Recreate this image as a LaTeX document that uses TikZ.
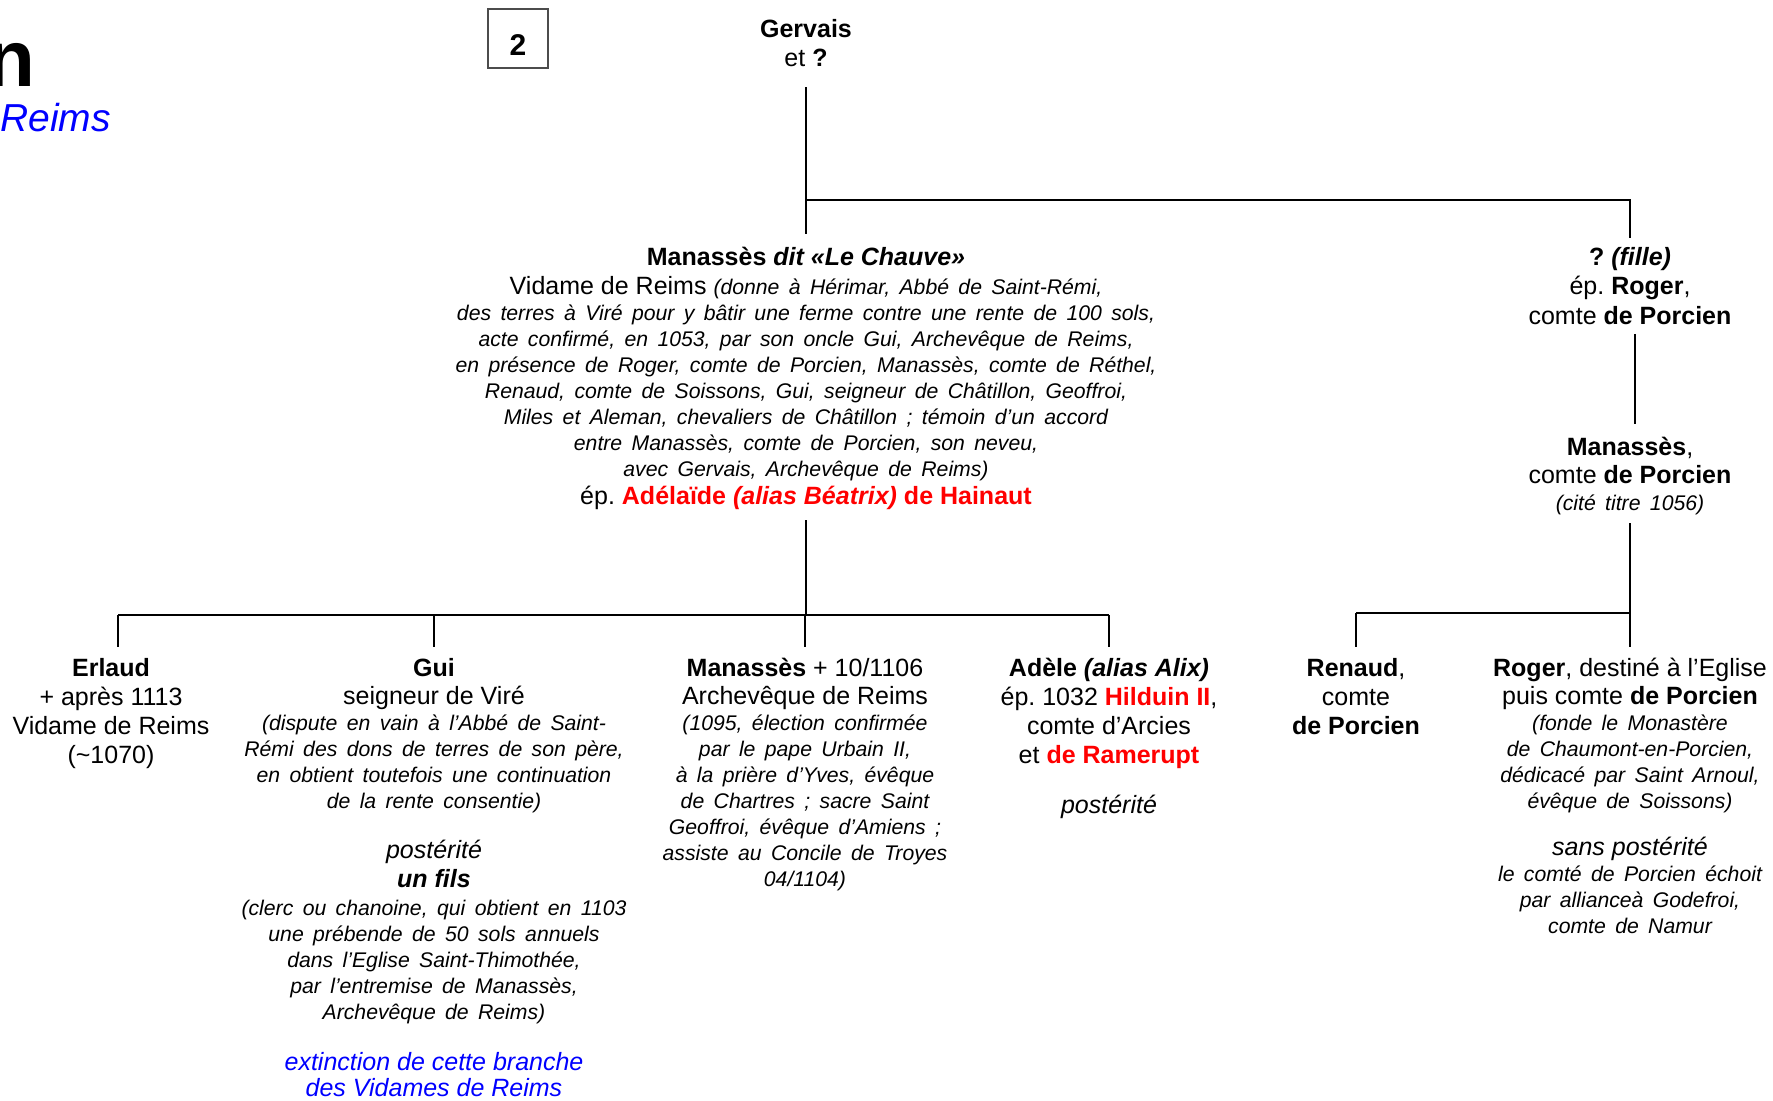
\documentclass[tikz,border=0pt]{standalone}
\usepackage{fontspec}
\setmainfont{Liberation Sans}
\usetikzlibrary{positioning}
\frenchspacing
\definecolor{rouge}{RGB}{255,0,0}
\definecolor{bleu}{RGB}{0,0,255}
\newcommand{\gnote}[1]{{\fontsize{10.6}{13}\selectfont\itshape\spaceskip=4.7pt plus 1pt minus 0.5pt #1}}
\newcommand{\haut}{\rule{0pt}{12pt}}

\begin{document}
\begin{tikzpicture}[
    x=0.5pt, y=-0.5pt,
    pers/.style={align=center, inner sep=0pt, anchor=north,
      font={\fontsize{12.5}{13}\selectfont\lineskiplimit=-50pt}},
    lien/.style={line width=1.4pt}
    ]
    \useasboundingbox (0,0) rectangle (1773,1100);
    \node[anchor=base east, inner sep=0pt, font={\fontsize{40}{40}\selectfont\bfseries}] (titre) at (36,86) {n};
    \node[anchor=base west, inner sep=0pt, text=bleu, font={\fontsize{19.5}{20}\selectfont\itshape}] (soustitre) at (0,131) {Reims};
    \node[draw=black!70, line width=0.6pt, minimum width=30pt, minimum height=29.5pt,
      text height=16.8pt, text depth=0pt, font={\fontsize{15}{15}\selectfont\bfseries}] (num) at (518,38.5) {2};

    \node[pers] (gerv) at (806,13) {\haut\textbf{Gervais}\\[1.5pt] et \textbf{?}};

    \node[pers] (mch) at (806,241) {\haut\textbf{Manassès \textit{dit «Le Chauve»}}\\[1.5pt]
      Vidame de Reims \gnote{(donne à Hérimar, Abbé de Saint-Rémi,}\\
      \gnote{des terres à Viré pour y bâtir une ferme contre une rente de 100 sols,}\\
      \gnote{acte confirmé, en 1053, par son oncle Gui, Archevêque de Reims,}\\
      \gnote{en présence de Roger, comte de Porcien, Manassès, comte de Réthel,}\\
      \gnote{Renaud, comte de Soissons, Gui, seigneur de Châtillon, Geoffroi,}\\
      \gnote{Miles et Aleman, chevaliers de Châtillon ; témoin d’un accord}\\
      \gnote{entre Manassès, comte de Porcien, son neveu,}\\
      \gnote{avec Gervais, Archevêque de Reims)}\\[1pt]
      ép. \textcolor{rouge}{\textbf{Adélaïde \textit{(alias Béatrix)} de Hainaut}}};

    \node[pers] (fille) at (1630,241) {\haut\textbf{? \textit{(fille)}}\\[1.7pt]
      ép. \textbf{Roger},\\[1.7pt]
      comte \textbf{de Porcien}};

    \node[pers] (mpor) at (1630,431) {\haut\textbf{Manassès},\\[1pt]
      comte \textbf{de Porcien}\\[0.5pt]
      \gnote{(cité titre 1056)}};

    % enfants de Manasses le Chauve
    \node[pers] (erl) at (111,652) {\haut\textbf{Erlaud}\\[1.5pt]
      + après 1113\\[1.5pt]
      Vidame de Reims\\[1.5pt]
      (\textasciitilde1070)};

    \node[pers] (gui) at (434,652) {\haut\textbf{Gui}\\[1pt]
      seigneur de Viré\\
      \gnote{(dispute en vain à l’Abbé de Saint-}\\
      \gnote{Rémi des dons de terres de son père,}\\
      \gnote{en obtient toutefois une continuation}\\
      \gnote{de la rente consentie)}\\[12pt]
      \textit{postérité}\\[1.5pt]
      \textbf{\textit{un fils}}\\[1pt]
      \gnote{(clerc ou chanoine, qui obtient en 1103}\\
      \gnote{une prébende de 50 sols annuels}\\
      \gnote{dans l’Eglise Saint-Thimothée,}\\
      \gnote{par l’entremise de Manassès,}\\
      \gnote{Archevêque de Reims)}\\[12.5pt]
      \textcolor{bleu}{\textit{extinction de cette branche}}\\[0pt]
      \textcolor{bleu}{\textit{des Vidames de Reims}}};

    \node[pers] (mar) at (805,652) {\haut\textbf{Manassès} + 10/1106\\[1pt]
      Archevêque de Reims\\
      \gnote{(1095, élection confirmée}\\
      \gnote{par le pape Urbain II,}\\
      \gnote{à la prière d’Yves, évêque}\\
      \gnote{de Chartres ; sacre Saint}\\
      \gnote{Geoffroi, évêque d’Amiens ;}\\
      \gnote{assiste au Concile de Troyes}\\
      \gnote{04/1104)}};

    \node[pers] (adele) at (1109,652) {\haut\textbf{Adèle \textit{(alias Alix)}}\\[1.5pt]
      ép. 1032 \textcolor{rouge}{\textbf{Hilduin II}},\\[1.5pt]
      comte d’Arcies\\[1.5pt]
      et \textcolor{rouge}{\textbf{de Ramerupt}}\\[12pt]
      \textit{postérité}};

    % enfants de Manasses, comte de Porcien
    \node[pers] (ren) at (1356,652) {\haut\textbf{Renaud},\\[1.5pt]
      comte\\[1.5pt]
      \textbf{de Porcien}};

    \node[pers] (rog) at (1630,652) {\haut\textbf{Roger}, destiné à l’Eglise\\[1pt]
      puis comte \textbf{de Porcien}\\
      \gnote{(fonde le Monastère}\\
      \gnote{de Chaumont-en-Porcien,}\\
      \gnote{dédicacé par Saint Arnoul,}\\
      \gnote{évêque de Soissons)}\\[10.5pt]
      \textit{sans postérité}\\
      \gnote{le comté de Porcien échoit}\\
      \gnote{par allianceà Godefroi,}\\
      \gnote{comte de Namur}};

    \coordinate (barre1) at (0,200);
    \coordinate (barre2) at (0,615);
    \coordinate (barre3) at (0,613);

    \draw[lien] ([yshift=-10pt]gerv.south) -- (gerv.south |- barre1) -| ([yshift=1.5pt]fille.north);
    \draw[lien] (gerv.south |- barre1) -- ([yshift=3.5pt]mch.north);
    \draw[lien] ([xshift=2.5pt,yshift=-4.5pt]fille.south) -- ([xshift=2.5pt,yshift=3.5pt]mpor.north);

    \draw[lien] ([yshift=-5pt]mch.south) -- (mch.south |- barre2);
    \draw[lien] ([xshift=3.5pt]erl.north |- barre2) -- (adele.north |- barre2);
    \draw[lien] ([xshift=3.5pt]erl.north |- barre2) -- ([xshift=3.5pt,yshift=2.5pt]erl.north);
    \foreach \e in {gui,mar,adele}
      \draw[lien] (\e.north |- barre2) -- ([yshift=2.5pt]\e.north);

    \draw[lien] ([yshift=-4pt]mpor.south) -- (mpor.south |- barre3);
    \draw[lien] (ren.north |- barre3) -- (rog.north |- barre3);
    \foreach \e in {ren,rog}
      \draw[lien] (\e.north |- barre3) -- ([yshift=2.5pt]\e.north);
\end{tikzpicture}
\end{document}
